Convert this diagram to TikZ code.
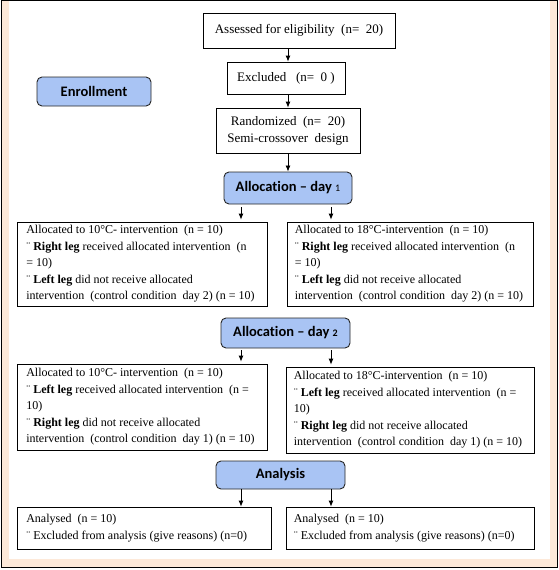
\documentclass[tikz,border=0pt]{standalone}
\usepackage{fontspec}
\setmainfont{Liberation Serif}
\newfontfamily\labfont[Ligatures=NoCommon]{Carlito}
\usetikzlibrary{arrows.meta}
\definecolor{peach}{HTML}{FDE9D9}
\definecolor{lblue}{HTML}{A9C4F4}
\begin{document}
\begin{tikzpicture}[x=1pt,y=-1pt,
  box/.style={draw=black, line width=0.8pt, fill=white, inner sep=0pt, font=\fontsize{13}{17}\selectfont},
  frame/.style={draw=black, line width=0.8pt, fill=white, inner sep=0pt},
  txt/.style={anchor=west, align=left, inner sep=0pt, font=\fontsize{12}{16.5}\selectfont},
  lab/.style={draw=black!85, line width=0.9pt, fill=lblue, rounded corners=5pt, inner sep=0pt, font=\labfont\bfseries\fontsize{14.5}{16}\selectfont},
  arr/.style={-{Latex[length=6pt,width=5pt]}, line width=0.8pt}]
\useasboundingbox (0,0) rectangle (559,570);
\fill[peach] (1.5,0.5) rectangle (557.5,567.5);
\fill[white] (9,1) rectangle (550,559);
\draw[line width=1.2pt] (1.5,0.5) rectangle (557.5,567.5);

\node[box, minimum width=192pt, minimum height=35pt] (assess) at (299,30.5) {Assessed for eligibility\ \ (n=\ \ 20)};
\node[box, minimum width=118pt, minimum height=32pt] (excl) at (286,78) {Excluded\ \ \ (n=\ \ 0\ )};
\node[box, align=center, minimum width=144pt, minimum height=45pt] (rand) at (288,130.5) {Randomized\ \ (n=\ \ 20)\\Semi-crossover\ \ design};
\node[lab, minimum width=114pt, minimum height=29pt] (enroll) at (94,91.5) {Enrollment};

\node[lab, minimum width=128pt, minimum height=32pt] (alloc1) at (288,188) {Allocation – day {\mdseries\fontsize{10}{12}\selectfont 1}};
\node[frame, minimum width=250pt, minimum height=84pt] (L1) at (142.5,264) {};
\node[txt] (L1t) at ([xshift=9pt]L1.west) {Allocated to 10°C- intervention\ \ (n = 10)\\
¨ \textbf{Right leg} received allocated intervention\ \ (n\\
= 10)\\
¨ \textbf{Left leg} did not receive allocated\\
intervention\ \ (control condition\ \ day 2) (n = 10)};
\node[frame, minimum width=246pt, minimum height=84pt] (R1) at (410,264) {};
\node[txt] (R1t) at ([xshift=8pt]R1.west) {Allocated to 18°C-intervention\ \ (n = 10)\\
¨ \textbf{Right leg} received allocated intervention\ \ (n\\
= 10)\\
¨ \textbf{Left leg} did not receive allocated\\
intervention\ \ (control condition\ \ day 2) (n = 10)};

\node[lab, minimum width=129pt, minimum height=30pt] (alloc2) at (285.5,333) {Allocation – day {\fontsize{10}{12}\selectfont 2}};
\node[frame, minimum width=250pt, minimum height=86pt] (L2) at (142.5,407) {};
\node[txt] (L2t) at ([xshift=9pt]L2.west) {Allocated to 10°C- intervention\ \ (n = 10)\\
¨ \textbf{Left leg} received allocated intervention\ \ (n =\\
10)\\
¨ \textbf{Right leg} did not receive allocated\\
intervention\ \ (control condition\ \ day 1) (n = 10)};
\node[frame, minimum width=248pt, minimum height=86pt] (R2) at (410,410) {};
\node[txt] (R2t) at ([xshift=8pt]R2.west) {Allocated to 18°C-intervention\ \ (n = 10)\\
¨ \textbf{Left leg} received allocated intervention\ \ (n =\\
10)\\
¨ \textbf{Right leg} did not receive allocated\\
intervention\ \ (control condition\ \ day 1) (n = 10)};

\node[lab, minimum width=129pt, minimum height=28pt] (anal) at (280.5,475) {Analysis};
\node[frame, minimum width=254pt, minimum height=42pt] (L3) at (144.5,528) {};
\node[txt] (L3t) at ([xshift=9pt]L3.west) {Analysed\ \ (n = 10)\\
¨ Excluded from analysis (give reasons) (n=0)};
\node[frame, minimum width=248pt, minimum height=42pt] (R3) at (410,528) {};
\node[txt] (R3t) at ([xshift=8pt]R3.west) {Analysed\ \ (n = 10)\\
¨ Excluded from analysis (give reasons) (n=0)};

\coordinate (cx) at (288,0);
\coordinate (lx) at (241,0);
\coordinate (rx) at (331,0);
\draw[arr] (assess.south -| cx) -- (excl.north -| cx);
\draw[arr] (excl.south -| cx) -- (rand.north -| cx);
\draw[arr] (rand.south -| cx) -- (alloc1.north -| cx);
\draw[arr, shorten <=3pt, shorten >=2pt] (alloc1.south -| lx) -- (L1.north -| lx);
\draw[arr, shorten <=3pt, shorten >=2pt] (alloc1.south -| rx) -- (R1.north -| rx);
\draw[arr, shorten <=2pt, shorten >=2pt] (alloc2.south -| lx) -- (L2.north -| lx);
\draw[arr, shorten <=2pt, shorten >=2pt] (alloc2.south -| rx) -- (R2.north -| rx);
\draw[arr] (anal.south -| lx) -- (L3.north -| lx);
\draw[arr] (anal.south -| rx) -- (R3.north -| rx);
\end{tikzpicture}
\end{document}
